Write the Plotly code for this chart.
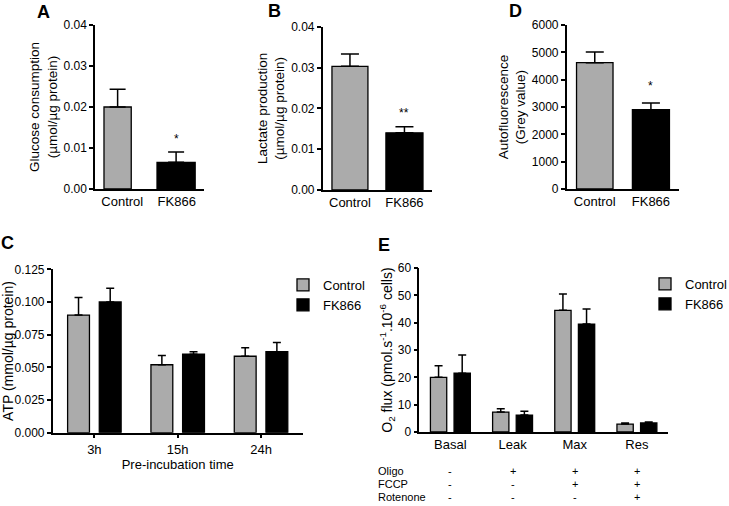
import plotly.graph_objects as go

W, H = 729, 506

# ---------------- data ----------------
groups2 = ["Control", "FK866"]

glucose_mean = [0.0200, 0.0065]
glucose_sem = [0.0043, 0.0025]
glucose_sig = ["", "*"]

lactate_mean = [0.0303, 0.0140]
lactate_sem = [0.0030, 0.0015]
lactate_sig = ["", "**"]

autofl_mean = [4620, 2900]
autofl_sem = [390, 250]
autofl_sig = ["", "*"]

atp_times = ["3h", "15h", "24h"]
atp_control = [0.090, 0.052, 0.0585]
atp_control_sem = [0.0135, 0.007, 0.0065]
atp_fk866 = [0.100, 0.060, 0.062]
atp_fk866_sem = [0.0105, 0.002, 0.007]

o2_states = ["Basal", "Leak", "Max", "Res"]
o2_control = [20.0, 7.3, 44.5, 2.9]
o2_control_sem = [4.2, 1.2, 6.0, 0.4]
o2_fk866 = [21.5, 6.2, 39.5, 3.3]
o2_fk866_sem = [6.7, 1.4, 5.5, 0.4]

table_rows = ["Oligo", "FCCP", "Rotenone"]
table_oligo = ["-", "+", "+", "+"]
table_fccp = ["-", "-", "+", "+"]
table_rotenone = ["-", "-", "-", "+"]

# ---------------- style ----------------
GREY = "#ababab"
BLACK = "#000000"
FONT = "Arial, Liberation Sans, sans-serif"


def px_x(v):
    return v / W


def px_y(v):
    return 1 - v / H


fig = go.Figure()

# ----- single bar panels A, B, D -----
single_panels = [
    ("x", "y", glucose_mean, glucose_sem, [0.5, 0.7], [-0.335, -0.362], 8),
    ("x2", "y2", lactate_mean, lactate_sem, [0.66, 0.68], None, 9),
    ("x3", "y3", autofl_mean, autofl_sem, [0.65, 0.66], None, 9),
]
for xa, ya, m, s, wd, off, capw in single_panels:
    fig.add_trace(go.Bar(
        x=groups2, y=m, xaxis=xa, yaxis=ya, width=wd, offset=off,
        marker=dict(color=[GREY, BLACK], line=dict(color=BLACK, width=1.3)),
        error_y=dict(type="data", array=s, arrayminus=[0] * len(s), symmetric=False,
                     color=BLACK, thickness=1.5, width=capw),
        showlegend=False, hoverinfo="skip",
    ))

# ----- C: ATP -----
fig.add_trace(go.Bar(
    x=atp_times, y=atp_control, name="Control", xaxis="x4", yaxis="y4", legend="legend",
    marker=dict(color=GREY, line=dict(color=BLACK, width=1.3)),
    error_y=dict(type="data", array=atp_control_sem, arrayminus=[0] * 3, symmetric=False,
                 color=BLACK, thickness=1.5, width=4),
))
fig.add_trace(go.Bar(
    x=atp_times, y=atp_fk866, name="FK866", xaxis="x4", yaxis="y4", legend="legend",
    marker=dict(color=BLACK, line=dict(color=BLACK, width=1.3)),
    error_y=dict(type="data", array=atp_fk866_sem, arrayminus=[0] * 3, symmetric=False,
                 color=BLACK, thickness=1.5, width=4),
))

# ----- E: O2 flux -----
fig.add_trace(go.Bar(
    x=o2_states, y=o2_control, name="Control", xaxis="x5", yaxis="y5", legend="legend2",
    marker=dict(color=GREY, line=dict(color=BLACK, width=1.3)),
    error_y=dict(type="data", array=o2_control_sem, arrayminus=[0] * 4, symmetric=False,
                 color=BLACK, thickness=1.5, width=4),
))
fig.add_trace(go.Bar(
    x=o2_states, y=o2_fk866, name="FK866", xaxis="x5", yaxis="y5", legend="legend2",
    marker=dict(color=BLACK, line=dict(color=BLACK, width=1.3)),
    error_y=dict(type="data", array=o2_fk866_sem, arrayminus=[0] * 4, symmetric=False,
                 color=BLACK, thickness=1.5, width=4),
))

# ---------------- axes ----------------
base_axis = dict(showline=True, linecolor=BLACK, linewidth=1.5, showgrid=False,
                 zeroline=False, mirror=False, fixedrange=True,
                 tickfont=dict(family=FONT, size=12, color=BLACK),
                 title_font=dict(family=FONT, size=13.5, color=BLACK))
yaxis_style = dict(base_axis, ticks="outside", ticklen=4, tickwidth=1.5, tickcolor=BLACK)
xaxis_style = dict(base_axis, ticks="", tickfont=dict(family=FONT, size=13, color=BLACK))

layout_axes = {
    "xaxis": dict(xaxis_style, domain=[px_x(95), px_x(204)], anchor="y"),
    "yaxis": dict(yaxis_style, domain=[px_y(189), px_y(25)], anchor="x",
                  range=[0, 0.04], dtick=0.01, tickformat=".2f",
                  title=dict(text="Glucose consumption<br>(µmol/µg protein)", standoff=3)),
    "xaxis2": dict(xaxis_style, domain=[px_x(322.7), px_x(431.7)], anchor="y2"),
    "yaxis2": dict(yaxis_style, domain=[px_y(190), px_y(26.7)], anchor="x2",
                   range=[0, 0.04], dtick=0.01, tickformat=".2f",
                   title=dict(text="Lactate production<br>(µmol/µg protein)", standoff=3)),
    "xaxis3": dict(xaxis_style, domain=[px_x(566.7), px_x(679)], anchor="y3"),
    "yaxis3": dict(yaxis_style, domain=[px_y(189), px_y(25)], anchor="x3",
                   range=[0, 6000], dtick=1000, tickformat="d",
                   title=dict(text="Autofluorescence<br>(Grey value)", standoff=3)),
    "xaxis4": dict(xaxis_style, domain=[px_x(52.7), px_x(302.7)], anchor="y4",
                   ticks="outside", ticklen=4, tickwidth=1.5, tickcolor=BLACK,
                   title=dict(text="Pre-incubation time", standoff=2,
                              font=dict(family=FONT, size=13, color=BLACK))),
    "yaxis4": dict(yaxis_style, domain=[px_y(432.7), px_y(269.3)], anchor="x4",
                   range=[0, 0.125], dtick=0.025, tickformat=".3f",
                   title=dict(text="ATP (mmol/µg protein)", standoff=2,
                              font=dict(family=FONT, size=14, color=BLACK))),
    "xaxis5": dict(xaxis_style, domain=[px_x(419.3), px_x(668)], anchor="y5"),
    "yaxis5": dict(yaxis_style, domain=[px_y(432), px_y(268)], anchor="x5",
                   range=[0, 60], dtick=10,
                   title=dict(text="O<sub>2</sub> flux (pmol.s<sup>-1</sup>.10<sup>-6</sup> cells)",
                              standoff=2, font=dict(family=FONT, size=14, color=BLACK))),
}

annotations = []
# panel letters
for letter, lx, ly in [("A", 43, 12), ("B", 274, 11), ("D", 515, 11), ("C", 8, 243), ("E", 384, 245)]:
    annotations.append(dict(text="<b>" + letter + "</b>", x=px_x(lx), y=px_y(ly),
                            xref="paper", yref="paper", xanchor="center", yanchor="middle",
                            showarrow=False, font=dict(family=FONT, size=18, color=BLACK)))

# significance stars
for xa, ya, m, s, sig, ysh in [("x", "y", glucose_mean, glucose_sem, glucose_sig, 4),
                                ("x2", "y2", lactate_mean, lactate_sem, lactate_sig, 5),
                                ("x3", "y3", autofl_mean, autofl_sem, autofl_sig, 8)]:
    for g, mv, sv, st in zip(groups2, m, s, sig):
        if st:
            annotations.append(dict(text=st, x=g, y=mv + sv, xref=xa, yref=ya,
                                    xanchor="center", yanchor="bottom",
                                    yshift=ysh, showarrow=False,
                                    font=dict(family=FONT, size=12, color=BLACK)))

# treatment table under E
row_y = [471, 484, 497]
for rname, vals, ry in zip(table_rows, [table_oligo, table_fccp, table_rotenone], row_y):
    annotations.append(dict(text=rname, x=px_x(377), y=px_y(ry), xref="paper", yref="paper",
                            xanchor="left", yanchor="middle", showarrow=False, borderpad=0,
                            font=dict(family=FONT, size=11, color=BLACK)))
    for state, v in zip(o2_states, vals):
        annotations.append(dict(text=v, x=state, y=px_y(ry), xref="x5", yref="paper",
                                xanchor="center", yanchor="middle", showarrow=False,
                                borderpad=0, font=dict(family=FONT, size=11, color=BLACK)))

legend_style = dict(xanchor="left", yanchor="top", bgcolor="rgba(0,0,0,0)",
                    font=dict(family=FONT, size=13, color=BLACK), tracegroupgap=0,
                    traceorder="normal")

fig.update_layout(
    width=W, height=H, margin=dict(l=0, r=0, t=0, b=0, autoexpand=False),
    paper_bgcolor="white", plot_bgcolor="white",
    font=dict(family=FONT, color=BLACK),
    barmode="group", bargap=0.24, bargroupgap=0.31,
    legend=dict(legend_style, x=px_x(283), y=px_y(270)),
    legend2=dict(legend_style, x=px_x(645), y=px_y(269)),
    annotations=annotations,
    **layout_axes,
)

fig.write_html("out.html", config={"displayModeBar": False},
               post_script="document.body.style.margin='0';document.body.style.overflow='hidden';")
